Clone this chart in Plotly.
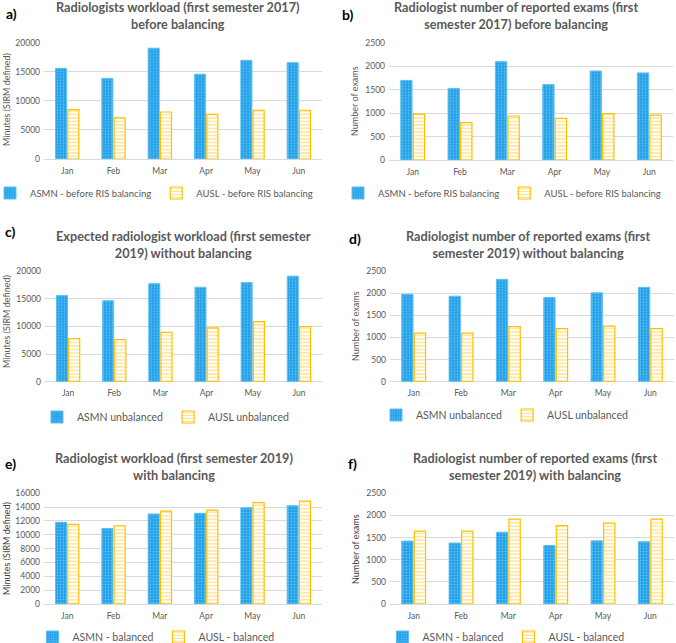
import plotly.graph_objects as go

W, H = 676, 643
months = ["Jan", "Feb", "Mar", "Apr", "May", "Jun"]

# panel a
a_asmn = [15600, 13900, 19100, 14600, 17000, 16600]
a_ausl = [8500, 7100, 8100, 7700, 8400, 8400]
# panel b
b_asmn = [1700, 1530, 2100, 1610, 1900, 1860]
b_ausl = [980, 800, 940, 890, 990, 960]
# panel c
c_asmn = [15550, 14600, 17700, 17050, 17900, 19050]
c_ausl = [7800, 7600, 8900, 9700, 10850, 9950]
# panel d
d_asmn = [1975, 1930, 2310, 1900, 2005, 2130]
d_ausl = [1095, 1095, 1245, 1200, 1255, 1200]
# panel e
e_asmn = [11800, 10900, 13000, 13100, 13900, 14200]
e_ausl = [11500, 11300, 13400, 13550, 14650, 14850]
# panel f
f_asmn = [1420, 1375, 1620, 1320, 1425, 1405]
f_ausl = [1645, 1645, 1915, 1770, 1825, 1915]

titles = [
    "Radiologists workload (first semester 2017)<br>before balancing",
    "Radiologist number of reported exams (first<br>semester 2017) before balancing",
    "Expected radiologist workload (first semester<br>2019) without balancing",
    "Radiologist number of reported exams (first<br>semester 2019) without balancing",
    "Radiologist workload (first semester 2019)<br>with balancing",
    "Radiologist number of reported exams (first<br>semester 2019) with balancing",
]
letters = ["a)", "b)", "c)", "d)", "e)", "f)"]
ytitles = ["Minutes (SIRM defined)", "Number of exams"] * 3
names = [
    ("ASMN - before RIS balancing", "AUSL - before RIS balancing"),
    ("ASMN - before RIS balancing", "AUSL - before RIS balancing"),
    ("ASMN unbalanced", "AUSL unbalanced"),
    ("ASMN unbalanced", "AUSL unbalanced"),
    ("ASMN - balanced", "AUSL - balanced"),
    ("ASMN - balanced", "AUSL - balanced"),
]
data = [(a_asmn, a_ausl), (b_asmn, b_ausl), (c_asmn, c_ausl),
        (d_asmn, d_ausl), (e_asmn, e_ausl), (f_asmn, f_ausl)]
ymax = [20000, 2500, 20000, 2500, 16000, 2500]
dticks = [5000, 500, 5000, 500, 2000, 500]

# layout geometry (pixels)
xdom = [(44, 322), (389, 673), (45, 322), (390, 674), (44, 322), (390, 674)]
ydom = [(42.7, 159), (42.7, 160), (270.7, 381.7), (270.7, 381.7), (493, 604), (493, 604)]
title_pos = [(178, 15.7), (516, 15.5), (183, 244), (528, 244), (174, 466), (535, 466)]
letter_pos = [(11, 14), (348, 15), (10, 231), (355, 238), (10, 463), (353, 463)]
ytitle_pos = [(6, 100), (355, 101), (6, 322), (355, 326), (6, 549), (355, 549)]
legend_pos = [(-10, 193, "left"), (338, 193, "left"), (166, 417, "center"),
              (505, 415, "center"), (156, 637, "center"), (506, 637, "center")]
legend_size = [9.5, 9.5, 10.5, 10.5, 10.5, 10.5]

FONT = "Lato, Calibri, Carlito, sans-serif"
GREY = "#595959"
BLUE = "#1E9FE8"
YEL = "#FFC000"


def px(x):
    return x / W


def py(y):
    return 1 - y / H


fig = go.Figure()
annotations = []
layout = {}
for i in range(6):
    k = "" if i == 0 else str(i + 1)
    lg = "legend" if i == 0 else f"legend{i + 1}"
    asmn, ausl = data[i]
    fig.add_trace(go.Bar(
        x=months, y=asmn, name=names[i][0], xaxis="x" + k, yaxis="y" + k, legend=lg,
        marker=dict(color=BLUE, line=dict(color="#5BC0F5", width=1),
                    pattern=dict(shape=".", fgcolor="#A8DDF8", bgcolor=BLUE,
                                 size=3, solidity=0.3)),
    ))
    fig.add_trace(go.Bar(
        x=months, y=ausl, name=names[i][1], xaxis="x" + k, yaxis="y" + k, legend=lg,
        marker=dict(color="white", line=dict(color=YEL, width=1.2),
                    pattern=dict(shape="-", fgcolor=YEL, bgcolor="white",
                                 size=3.5, solidity=0.35)),
    ))
    x0, x1 = xdom[i]
    y0, y1 = ydom[i]
    layout["xaxis" + k] = dict(
        domain=[px(x0), px(x1)], anchor="y" + k, type="category",
        showgrid=False, showline=False, ticks="", zeroline=False,
        tickfont=dict(family=FONT, size=8.5, color=GREY), ticklabelstandoff=5,
    )
    layout["yaxis" + k] = dict(
        domain=[py(y1), py(y0)], anchor="x" + k, range=[0, ymax[i] * 1.002],
        dtick=dticks[i], showgrid=True, gridcolor="#D9D9D9", gridwidth=1,
        zeroline=True, zerolinecolor="#D9D9D9", zerolinewidth=1,
        showline=False, ticks="", tickformat="d",
        tickfont=dict(family=FONT, size=8.5, color=GREY), ticklabelstandoff=3,
    )
    lx, ly, anc = legend_pos[i]
    layout[lg] = dict(
        x=px(lx), y=py(ly), xanchor=anc, yanchor="middle", orientation="h",
        font=dict(family=FONT, size=legend_size[i], color=GREY), bgcolor="rgba(0,0,0,0)",
        itemwidth=30, tracegroupgap=0,
    )
    tx, ty = title_pos[i]
    annotations.append(dict(
        x=px(tx), y=py(ty), xref="paper", yref="paper", text="<b>" + titles[i] + "</b>",
        showarrow=False, xanchor="center", yanchor="middle",
        font=dict(family=FONT, size=12.7, color=GREY),
    ))
    lx2, ly2 = letter_pos[i]
    annotations.append(dict(
        x=px(lx2), y=py(ly2), xref="paper", yref="paper", text="<b>" + letters[i] + "</b>",
        showarrow=False, xanchor="center", yanchor="middle",
        font=dict(family=FONT, size=14, color="black"),
    ))
    yx, yy = ytitle_pos[i]
    ycol = "#404040" if i >= 4 else GREY
    annotations.append(dict(
        x=px(yx), y=py(yy), xref="paper", yref="paper", text=ytitles[i],
        showarrow=False, xanchor="center", yanchor="middle", textangle=-90,
        font=dict(family=FONT, size=9, color=ycol),
    ))

fig.update_layout(
    width=W, height=H, margin=dict(l=0, r=0, t=0, b=0, autoexpand=False),
    paper_bgcolor="white", plot_bgcolor="white",
    barmode="group", bargap=0.47, bargroupgap=0.1,
    annotations=annotations, showlegend=True,
    **layout,
)
fig.write_html(
    "out.html",
    config={"displayModeBar": False},
    post_script="document.body.style.margin='0';document.body.style.padding='0';"
                "document.body.style.overflow='hidden';",
)
